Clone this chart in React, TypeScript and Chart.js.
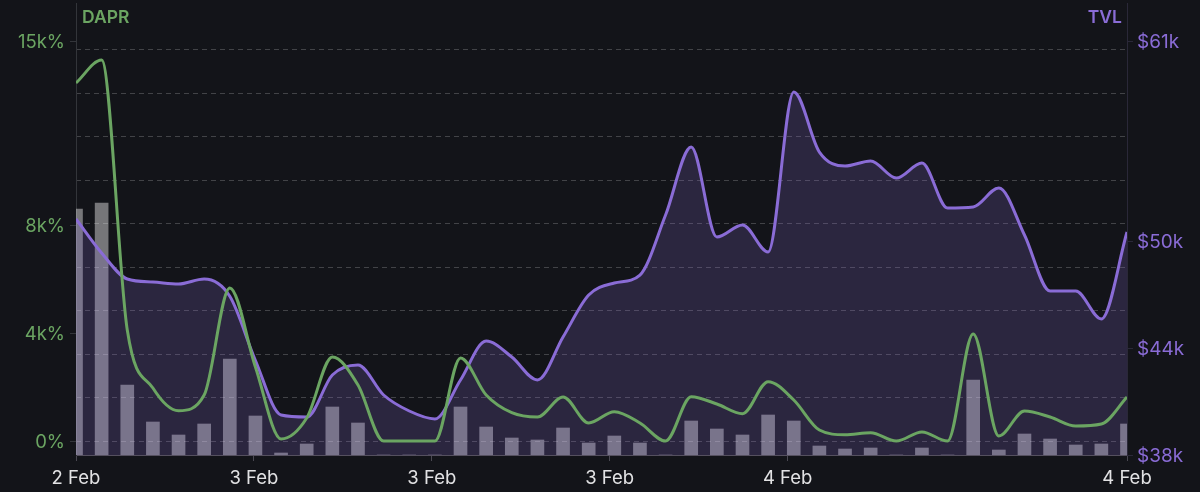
import React, { useRef, useEffect } from 'react';
import { Chart, registerables } from 'chart.js';

Chart.register(...registerables);

const dapr = [
  13260, 14111, 4111, 1963, 1122, 1704, 5667, 2741, 74, 852, 3111, 2074, 0, 0,
  0, 3074, 1704, 1048, 889, 1630, 667, 1085, 667, 0, 1641, 1370, 1011, 2196,
  1519, 407, 233, 307, 0, 333, 0, 3963, 185, 1111, 889, 556, 630, 1630,
];
const tvl = [
  51235, 49328, 47870, 47702, 47590, 47870, 46900, 43300, 40243, 40131, 42486,
  43047, 41365, 40468, 40019, 42206, 44393, 43496, 42206, 44617, 46973, 47646,
  48094, 51459, 55273, 50225, 50898, 49384, 58357, 54992, 54207, 54488, 53534,
  54375, 51852, 51908, 52973, 50338, 47197, 47197, 45627, 50506,
];
const volume = [
  246, 252, 70, 33, 20, 31, 96, 39, 2, 11, 48, 32, 0, 0, 0, 48, 28, 17, 15, 27,
  12, 19, 12, 0, 34, 26, 20, 40, 34, 9, 6, 7, 0, 7, 0, 75, 5, 21, 16, 10, 11, 31,
];

const xTicks = [0, 6.94, 13.88, 20.82, 27.76, 41];
const xLabels = ['2 Feb', '3 Feb', '3 Feb', '3 Feb', '4 Feb', '4 Feb'];
const daprTicks = [0, 4000, 8000, 14800];
const daprLabels = ['0%', '4k%', '8k%', '15k%'];
const tvlTicks = [38000, 44000, 50000, 61200];
const tvlLabels = ['$38k', '$44k', '$50k', '$61k'];
const gridLines = [0, 1, 2, 3, 4, 5, 6, 7, 8, 9];

const GREEN = '#6ba562';
const PURPLE = '#8a6cd6';
const BG = '#131419';
const FONT = 'Inter';

const points = (values: number[]) => values.map((y, x) => ({ x, y }));

const cornerTitles = {
  id: 'cornerTitles',
  afterDraw(chart: Chart) {
    const { ctx, chartArea } = chart;
    ctx.save();
    ctx.font = `600 17.5px ${FONT}`;
    ctx.textBaseline = 'middle';
    ctx.fillStyle = GREEN;
    ctx.textAlign = 'left';
    ctx.fillText('DAPR', chartArea.left + 6, 18);
    ctx.fillStyle = PURPLE;
    ctx.textAlign = 'right';
    ctx.fillText('TVL', chartArea.right - 5, 18);
    ctx.restore();
  },
};

export default function App() {
  const canvasRef = useRef<HTMLCanvasElement>(null);

  useEffect(() => {
    const ctx = canvasRef.current?.getContext('2d');
    if (!ctx) return;

    const chart = new Chart(ctx, {
      type: 'line',
      data: {
        datasets: [
          {
            label: 'DAPR',
            data: points(dapr),
            yAxisID: 'y',
            borderColor: GREEN,
            borderWidth: 3,
            pointRadius: 0,
            cubicInterpolationMode: 'monotone',
            order: 1,
          },
          {
            label: 'TVL',
            data: points(tvl),
            yAxisID: 'y1',
            borderColor: PURPLE,
            borderWidth: 3,
            pointRadius: 0,
            cubicInterpolationMode: 'monotone',
            order: 2,
          },
          {
            label: 'TVL area',
            data: points(tvl),
            yAxisID: 'y1',
            borderWidth: 0,
            borderColor: 'transparent',
            backgroundColor: 'rgba(138,108,214,0.2)',
            fill: 'start',
            pointRadius: 0,
            cubicInterpolationMode: 'monotone',
            order: 3,
          },
          {
            // sits under the area, that's what tints the bars purple
            type: 'bar',
            label: 'Volume',
            data: points(volume),
            yAxisID: 'vol',
            backgroundColor: 'rgba(255,255,255,0.42)',
            barThickness: 13,
            order: 4,
          },
        ],
      } as any,
      options: {
        animation: false,
        responsive: false,
        layout: { padding: { top: 3 } },
        plugins: { legend: { display: false }, tooltip: { enabled: false } },
        scales: {
          x: {
            type: 'linear',
            min: 0,
            max: 41,
            offset: false,
            afterBuildTicks: (s: any) => {
              s.ticks = xTicks.map(value => ({ value }));
            },
            afterFit: (s: any) => {
              s.height = 37;
            },
            ticks: {
              autoSkip: false,
              maxRotation: 0,
              color: '#e2e2e4',
              padding: 6,
              font: { family: FONT, size: 18.5 },
              callback: (_v: any, i: number) => xLabels[i],
            },
            grid: { drawOnChartArea: false, offset: false, tickLength: 6, tickColor: '#4a4852' },
            border: { color: '#55505f', width: 1 },
          },
          y: {
            position: 'left',
            min: -518,
            max: 16222,
            afterBuildTicks: (s: any) => {
              s.ticks = daprTicks.map(value => ({ value }));
            },
            afterFit: (s: any) => {
              s.width = 76;
              s.paddingTop = 0;
              s.paddingBottom = 0;
            },
            ticks: {
              color: GREEN,
              padding: 5,
              labelOffset: 1.5,
              font: { family: FONT, size: 18.5 },
              callback: (_v: any, i: number) => daprLabels[i],
            },
            grid: { drawOnChartArea: false, tickLength: 6, tickColor: '#33353a' },
            border: { color: '#33353a', width: 1 },
          },
          y1: {
            position: 'right',
            min: 38000,
            max: 63350,
            afterBuildTicks: (s: any) => {
              s.ticks = tvlTicks.map(value => ({ value }));
            },
            afterFit: (s: any) => {
              s.width = 73;
              s.paddingTop = 0;
              s.paddingBottom = 0;
            },
            ticks: {
              color: PURPLE,
              padding: 4,
              labelOffset: 1,
              font: { family: FONT, size: 19 },
              callback: (_v: any, i: number) => tvlLabels[i],
            },
            grid: { drawOnChartArea: false, tickLength: 6, tickColor: '#2a2838' },
            border: { color: '#2a2838', width: 1 },
          },
          // only there for the evenly spaced dashed lines, they don't follow either value axis
          lines: {
            position: 'left',
            min: -0.322,
            max: 10.08,
            afterBuildTicks: (s: any) => {
              s.ticks = gridLines.map(value => ({ value }));
            },
            afterFit: (s: any) => {
              s.width = 0;
              s.paddingTop = 0;
              s.paddingBottom = 0;
            },
            ticks: { display: false },
            grid: { drawTicks: false, color: 'rgba(255,255,255,0.2)' },
            border: { display: false, dash: [5, 4] },
          },
          vol: { display: false, min: 0, max: 452 },
        },
      } as any,
      plugins: [cornerTitles],
    });

    return () => {
      chart.destroy();
    };
  }, []);

  return (
    <div style={{ position: 'absolute', left: 0, top: 0, width: 1200, height: 492, background: BG }}>
      <canvas ref={canvasRef} width={1200} height={492} style={{ display: 'block' }} />
    </div>
  );
}
